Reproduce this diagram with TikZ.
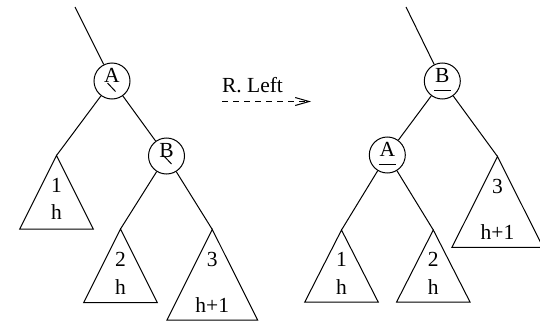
\documentclass[tikz,border=0pt]{standalone}
\usepackage{fontspec}
\setmainfont{Liberation Serif}
\usetikzlibrary{arrows.meta,positioning,calc}

\begin{document}
\begin{tikzpicture}[x=0.5pt,y=-0.5pt,line width=0.5pt,
  font=\fontsize{10.75}{13}\selectfont,
  vertex/.style={draw,circle,minimum size=18pt,inner sep=0pt,text depth=6pt},
  lbl/.style={inner sep=0pt}]
\useasboundingbox (0,0) rectangle (540,321);

% before the rotation
\coordinate (ltop) at (75,7);
\node[vertex] (la) at (112,81) {A};
\node[vertex] (lb) at (166.5,156) {B};
\coordinate (lt1) at (56.5,155.5);
\coordinate (lt2) at (120.5,229);
\coordinate (lt3) at (212.3,229.5);

\draw (ltop) -- (la);
\draw (la) -- (lt1);
\draw (la) -- (lb);
\draw (lb) -- (lt2);
\draw (lb) -- (lt3);
\draw (la) ++(-4.5,2) -- ++(8,8.5);
\draw (lb) ++(-3,-0.5) -- ++(8,8.5);

\draw (lt1) -- ++(-36.7,73.5) -- ++(73.4,0) -- cycle;
\draw (lt2) -- ++(-36.7,73.5) -- ++(73.4,0) -- cycle;
\draw (lt3) -- ++(-45.3,90.5) -- ++(90.6,0) -- cycle;
\node[lbl] (lt1n) at (56.5,185.5) {1};
\node[lbl] (lt1h) at (56.5,212.5) {h};
\node[lbl] (lt2n) at (120.5,259) {2};
\node[lbl] (lt2h) at (120.5,287.5) {h};
\node[lbl] (lt3n) at (212.3,259.5) {3};
\node[lbl] (lt3h) at (212.3,305) {h+1};

% the rotation
\coordinate (rs) at (222,101.5);
\coordinate (re) at (311,101.5);
\draw[dash pattern=on 3pt off 2.5pt,-{Straight Barb[length=7pt,width=4pt]}] (rs) -- (re);
\node[lbl] (rot) at (252.5,85) {R. Left};

% after the rotation
\coordinate (rtop) at (406,7);
\node[vertex] (rb) at (442.3,81) {B};
\node[vertex] (ra) at (387.3,155) {A};
\coordinate (rt1) at (341.5,230);
\coordinate (rt2) at (433.3,230);
\coordinate (rt3) at (497.5,156.5);

\draw (rtop) -- (rb);
\draw (rb) -- (ra);
\draw (rb) -- (rt3);
\draw (ra) -- (rt1);
\draw (ra) -- (rt2);
\draw (rb) ++(-8,9.7) -- ++(17,0);
\draw (ra) ++(-8,9.3) -- ++(17,0);

\draw (rt1) -- ++(-36.7,72) -- ++(73.4,0) -- cycle;
\draw (rt2) -- ++(-36.7,72) -- ++(73.4,0) -- cycle;
\draw (rt3) -- ++(-45.5,90.8) -- ++(91,0) -- cycle;
\node[lbl] (rt1n) at (341.5,259.5) {1};
\node[lbl] (rt1h) at (341.5,287.5) {h};
\node[lbl] (rt2n) at (433.3,259.5) {2};
\node[lbl] (rt2h) at (433.3,287.5) {h};
\node[lbl] (rt3n) at (497.5,186) {3};
\node[lbl] (rt3h) at (497.5,232) {h+1};
\end{tikzpicture}
\end{document}
